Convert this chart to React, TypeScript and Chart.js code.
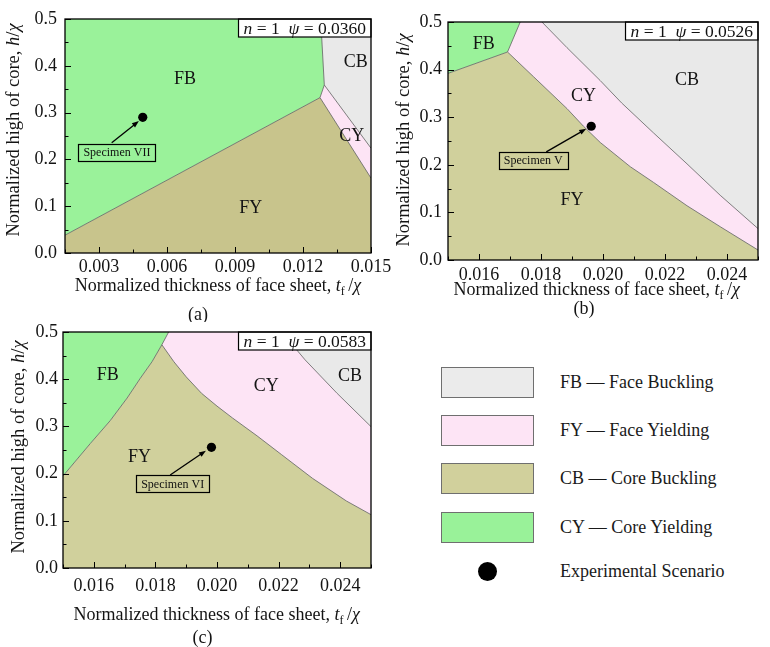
import React, { useEffect, useRef } from "react";
import { Chart, registerables } from "chart.js";
Chart.register(...registerables);

type P = [number, number];
const FONT = '"Liberation Serif", "Times New Roman", Times, serif';
Chart.defaults.font.family = FONT;

// ---------- shared y axis ----------
const yRange: P = [0, 0.5];
const yTicks = [0, 0.1, 0.2, 0.3, 0.4, 0.5];

// ---------- panel (a) ----------
const aXRange: P = [0.0015, 0.015];
const aXTicks = [0.003, 0.006, 0.009, 0.012, 0.015];
const aFbFy: P[] = [[0.0015, 0.038], [0.01275, 0.332]];
const aFbCy: P[] = [[0.01275, 0.332], [0.01294, 0.359]];
const aFbCb: P[] = [[0.01294, 0.359], [0.01278, 0.5]];
const aCyFy: P[] = [[0.01275, 0.332], [0.015, 0.16]];
const aCbCy: P[] = [[0.01294, 0.359], [0.015, 0.224]];
const aSpecimen: P = [0.00493, 0.29];
const aArrow: P[] = [[0.00356, 0.2357], [0.00476, 0.282]];
const aTag = "Specimen VII";
const aTagPos: P = [0.00379, 0.2154];
const aPsi = "0.0360";
const aModeNames = ["FB", "CB", "CY", "FY"];
const aModePos: P[] = [[0.00679, 0.372], [0.01433, 0.4075], [0.01415, 0.2485], [0.00969, 0.0955]];

// ---------- panel (b) ----------
const bXRange: P = [0.015, 0.025];
const bXTicks = [0.016, 0.018, 0.02, 0.022, 0.024];
const bFbFy: P[] = [[0.015, 0.392], [0.01692, 0.437]];
const bFbCy: P[] = [[0.01692, 0.437], [0.01733, 0.5]];
const bCyFy: P[] = [
  [0.01692, 0.437], [0.01776, 0.385], [0.01884, 0.318], [0.01937, 0.281], [0.01991, 0.247],
  [0.02088, 0.196], [0.02163, 0.163], [0.02271, 0.114], [0.02378, 0.07], [0.025, 0.021],
];
const bCbCy: P[] = [
  [0.01803, 0.5], [0.01884, 0.446], [0.01991, 0.377], [0.0206, 0.33], [0.02163, 0.267],
  [0.02271, 0.202], [0.02378, 0.136], [0.025, 0.066],
];
const bSpecimen: P = [0.01962, 0.281];
const bArrow: P[] = [[0.01817, 0.2272], [0.01946, 0.2755]];
const bTag = "Specimen V";
const bTagPos: P = [0.01775, 0.2098];
const bPsi = "0.0526";
const bModeNames = ["FB", "CB", "CY", "FY"];
const bModePos: P[] = [[0.01615, 0.453], [0.02271, 0.378], [0.01937, 0.343], [0.019, 0.126]];

// ---------- panel (c) ----------
const cXRange: P = [0.015, 0.025];
const cXTicks = [0.016, 0.018, 0.02, 0.022, 0.024];
const cFbFy: P[] = [
  [0.015, 0.195], [0.01589, 0.264], [0.01653, 0.312], [0.01708, 0.36], [0.01751, 0.402],
  [0.01789, 0.437], [0.01821, 0.473],
];
const cFbCy: P[] = [[0.01821, 0.473], [0.01843, 0.5]];
const cCyFy: P[] = [
  [0.01821, 0.473], [0.0186, 0.437], [0.019, 0.405], [0.0195, 0.37], [0.02, 0.343],
  [0.0205, 0.318], [0.0213, 0.28], [0.0221, 0.24], [0.0231, 0.19], [0.0242, 0.142], [0.025, 0.113],
];
const cCbCy: P[] = [[0.0221, 0.5], [0.02286, 0.441], [0.0239, 0.37], [0.025, 0.2995]];
const cSpecimen: P = [0.01982, 0.2557];
const cArrow: P[] = [[0.01848, 0.197], [0.01964, 0.2485]];
const cTag = "Specimen VI";
const cTagPos: P = [0.01856, 0.179];
const cPsi = "0.0583";
const cModeNames = ["FB", "CY", "CB", "FY"];
const cModePos: P[] = [[0.01645, 0.409], [0.0216, 0.3845], [0.02432, 0.4057], [0.01748, 0.2336]];

// ---------- legend ----------
const legendLabels = ["FB — Face Buckling", "FY — Face Yielding", "CB — Core Buckling", "CY — Core Yielding"];
const legendColors = ["rgb(235,235,235)", "rgb(253,228,245)", "rgb(209,208,156)", "rgb(153,242,153)"];
const expLabel = "Experimental Scenario";

const GREEN = "rgb(154,242,154)";
const PINK = "rgb(253,228,245)";
const GREY = "rgb(233,233,233)";

const rev = (a: P[]) => [...a].reverse();

function buildRegions(xr: P, fbFy: P[], fbCy: P[], fbCb: P[], cyFy: P[], cbCy: P[]) {
  return {
    FB: [[xr[0], yRange[1]] as P, ...fbFy, ...fbCy.slice(1), ...fbCb.slice(1)],
    FY: [[xr[0], yRange[0]] as P, [xr[1], yRange[0]] as P, ...rev(cyFy), ...rev(fbFy).slice(1)],
    CY: [...cyFy, ...rev(cbCy), ...rev(fbCy)],
    CB: [...cbCy, [xr[1], yRange[1]] as P, ...fbCb.slice(1)],
  };
}

type Seg = { t: string; i?: boolean; sub?: boolean };
function segFont(s: Seg, size: number) {
  return `${s.i ? "italic " : ""}${s.sub ? Math.round(size * 0.68) : size}px ${FONT}`;
}
function drawRich(ctx: CanvasRenderingContext2D, segs: Seg[], x: number, cy: number, size: number) {
  const widths = segs.map((s) => {
    ctx.font = segFont(s, size);
    return ctx.measureText(s.t).width;
  });
  const total = widths.reduce((p, q) => p + q, 0);
  let cx = x - total / 2;
  const base = cy + size * 0.33;
  ctx.textAlign = "left";
  ctx.textBaseline = "alphabetic";
  segs.forEach((s, k) => {
    ctx.font = segFont(s, size);
    ctx.fillText(s.t, cx, base + (s.sub ? size * 0.22 : 0));
    cx += widths[k];
  });
  return total;
}

const xTitle: Seg[] = [
  { t: "Normalized thickness of face sheet, " },
  { t: "t", i: true },
  { t: "f", sub: true },
  { t: "\u2009/" },
  { t: "χ", i: true },
];
const yTitle: Seg[] = [{ t: "Normalized high of core, " }, { t: "h", i: true }, { t: "/" }, { t: "χ", i: true }];

interface PanelCfg {
  xRange: P;
  xTicks: number[];
  regions: Record<string, P[]>;
  colors: Record<string, string>;
  bounds: P[][];
  specimen: P;
  arrow: P[];
  tag: string;
  tagPos: P;
  psi: string;
  modeNames: string[];
  modePos: P[];
  name: string;
  box: { left: number; top: number; w: number; h: number };
  area: { l: number; t: number; r: number; b: number };
  yPad: number;
  xPad: number;
  xTitlePos: P;
  nameAt: P;
  yTitlePos: P;
}

const panelA: PanelCfg = {
  xRange: aXRange,
  xTicks: aXTicks,
  regions: buildRegions(aXRange, aFbFy, aFbCy, aFbCb, aCyFy, aCbCy),
  colors: { FB: GREEN, FY: "rgb(200,196,140)", CY: PINK, CB: GREY },
  bounds: [aFbFy, aFbCy, aFbCb, aCyFy, aCbCy],
  specimen: aSpecimen,
  arrow: aArrow,
  tag: aTag,
  tagPos: aTagPos,
  psi: aPsi,
  modeNames: aModeNames,
  modePos: aModePos,
  name: "(a)",
  box: { left: 0, top: 0, w: 400, h: 322 },
  area: { l: 65, t: 19, r: 371, b: 253 },
  yPad: 8,
  xPad: 3,
  xTitlePos: [218, 285],
  nameAt: [198, 314],
  yTitlePos: [12.5, 130],
};

const panelB: PanelCfg = {
  xRange: bXRange,
  xTicks: bXTicks,
  regions: buildRegions(bXRange, bFbFy, bFbCy, [], bCyFy, bCbCy),
  colors: { FB: GREEN, FY: "rgb(208,208,156)", CY: PINK, CB: GREY },
  bounds: [bFbFy, bFbCy, bCyFy, bCbCy],
  specimen: bSpecimen,
  arrow: bArrow,
  tag: bTag,
  tagPos: bTagPos,
  psi: bPsi,
  modeNames: bModeNames,
  modePos: bModePos,
  name: "(b)",
  box: { left: 385, top: 0, w: 385, h: 322 },
  area: { l: 63, t: 22, r: 373, b: 260 },
  yPad: 6,
  xPad: 4,
  xTitlePos: [211.7, 289],
  nameAt: [199, 308.5],
  yTitlePos: [17.5, 140],
};

const panelC: PanelCfg = {
  xRange: cXRange,
  xTicks: cXTicks,
  regions: buildRegions(cXRange, cFbFy, cFbCy, [], cCyFy, cCbCy),
  colors: { FB: GREEN, FY: "rgb(208,208,156)", CY: PINK, CB: GREY },
  bounds: [cFbFy, cFbCy, cCyFy, cCbCy],
  specimen: cSpecimen,
  arrow: cArrow,
  tag: cTag,
  tagPos: cTagPos,
  psi: cPsi,
  modeNames: cModeNames,
  modePos: cModePos,
  name: "(c)",
  box: { left: 0, top: 315, w: 385, h: 332 },
  area: { l: 63, t: 17, r: 371, b: 253 },
  yPad: 5,
  xPad: 7,
  xTitlePos: [216.7, 299],
  nameAt: [202.5, 322],
  yTitlePos: [17.5, 132],
};

const toXY = (pts: P[]) => pts.map(([x, y]) => ({ x, y }));

function minors(majors: number[], range: P) {
  const step = majors[1] - majors[0];
  const out = majors.map((m) => m - step / 2);
  out.push(majors[majors.length - 1] + step / 2);
  return out.filter((v) => v >= range[0] - 1e-9 && v <= range[1] + 1e-9);
}

function makePlugin(c: PanelCfg) {
  return {
    id: "panelDecor",
    afterDatasetsDraw(chart: any) {
      const ctx: CanvasRenderingContext2D = chart.ctx;
      const xs = chart.scales.x;
      const ys = chart.scales.y;
      const a = chart.chartArea;
      const px = (p: P): P => [xs.getPixelForValue(p[0]), ys.getPixelForValue(p[1])];
      ctx.save();
      // mode labels
      ctx.fillStyle = "#141414";
      ctx.font = `18px ${FONT}`;
      ctx.textAlign = "center";
      ctx.textBaseline = "middle";
      c.modeNames.forEach((n, i) => {
        const [x, y] = px(c.modePos[i]);
        ctx.fillText(n, x, y);
      });
      // arrow
      const [sx, sy] = px(c.arrow[0]);
      const [ex, ey] = px(c.arrow[1]);
      const ang = Math.atan2(ey - sy, ex - sx);
      ctx.strokeStyle = "#000";
      ctx.fillStyle = "#000";
      ctx.lineWidth = 1.3;
      ctx.beginPath();
      ctx.moveTo(sx, sy);
      ctx.lineTo(ex - 5 * Math.cos(ang), ey - 5 * Math.sin(ang));
      ctx.stroke();
      ctx.beginPath();
      ctx.moveTo(ex, ey);
      ctx.lineTo(ex - 7 * Math.cos(ang) + 2.6 * Math.sin(ang), ey - 7 * Math.sin(ang) - 2.6 * Math.cos(ang));
      ctx.lineTo(ex - 7 * Math.cos(ang) - 2.6 * Math.sin(ang), ey - 7 * Math.sin(ang) + 2.6 * Math.cos(ang));
      ctx.closePath();
      ctx.fill();
      // specimen tag
      ctx.font = `12px ${FONT}`;
      const tw = ctx.measureText(c.tag).width;
      const [tx, ty] = px(c.tagPos);
      const bw = tw + 10;
      const bh = 17;
      ctx.lineWidth = 1.2;
      ctx.strokeRect(Math.round(tx - bw / 2) + 0.5, Math.round(ty - bh / 2) + 0.5, Math.round(bw), bh);
      ctx.fillStyle = "#111";
      ctx.textAlign = "center";
      ctx.textBaseline = "middle";
      ctx.fillText(c.tag, tx, ty + 1);
      // parameter box
      const segs: Seg[] = [{ t: "n", i: true }, { t: " = 1  " }, { t: "ψ", i: true }, { t: " = " + c.psi }];
      let w = 0;
      segs.forEach((s) => {
        ctx.font = segFont(s, 17.5);
        w += ctx.measureText(s.t).width;
      });
      const boxW = w + 10;
      const boxH = 18;
      ctx.fillStyle = "#fff";
      ctx.fillRect(a.right - boxW, a.top, boxW, boxH);
      ctx.strokeStyle = "#000";
      ctx.lineWidth = 1.2;
      ctx.strokeRect(a.right - boxW, a.top, boxW, boxH);
      ctx.fillStyle = "#111";
      drawRich(ctx, segs, a.right - boxW / 2, a.top + boxH / 2 + 0.5, 17.5);
      // frame
      ctx.strokeStyle = "#000";
      ctx.lineWidth = 1.3;
      ctx.strokeRect(a.left, a.top, a.right - a.left, a.bottom - a.top);
      // inward ticks
      ctx.lineWidth = 1;
      const seg = (x1: number, y1: number, x2: number, y2: number) => {
        ctx.beginPath();
        ctx.moveTo(x1, y1);
        ctx.lineTo(x2, y2);
        ctx.stroke();
      };
      c.xTicks.forEach((v) => {
        const x = Math.round(xs.getPixelForValue(v)) + 0.5;
        seg(x, a.bottom, x, a.bottom - 6);
      });
      minors(c.xTicks, c.xRange).forEach((v) => {
        const x = Math.round(xs.getPixelForValue(v)) + 0.5;
        seg(x, a.bottom, x, a.bottom - 3.5);
      });
      yTicks.forEach((v) => {
        const y = Math.round(ys.getPixelForValue(v)) + 0.5;
        seg(a.left, y, a.left + 6, y);
      });
      minors(yTicks, yRange).forEach((v) => {
        const y = Math.round(ys.getPixelForValue(v)) + 0.5;
        seg(a.left, y, a.left + 3.5, y);
      });
      ctx.restore();
    },
    afterDraw(chart: any) {
      const ctx: CanvasRenderingContext2D = chart.ctx;
      ctx.save();
      ctx.fillStyle = "#141414";
      drawRich(ctx, xTitle, c.xTitlePos[0], c.xTitlePos[1], 18);
      drawRich(ctx, [{ t: c.name }], c.nameAt[0], c.nameAt[1], 18);
      ctx.translate(c.yTitlePos[0], c.yTitlePos[1]);
      ctx.rotate(-Math.PI / 2);
      drawRich(ctx, yTitle, 0, 0, 18.5);
      ctx.restore();
    },
  };
}

function PanelChart({ cfg }: { cfg: PanelCfg }) {
  const ref = useRef<HTMLCanvasElement>(null);
  useEffect(() => {
    const c = cfg;
    const datasets: any[] = [];
    datasets.push({
      data: toXY([c.specimen]),
      showLine: false,
      pointRadius: 4.6,
      pointBackgroundColor: "#000",
      pointBorderColor: "#000",
      pointBorderWidth: 0,
      order: 0,
    });
    c.bounds.forEach((b) =>
      datasets.push({
        data: toXY(b),
        borderColor: "rgba(105,105,105,0.85)",
        borderWidth: 1,
        pointRadius: 0,
        fill: false,
        order: 1,
      })
    );
    Object.keys(c.regions).forEach((k) => {
      const poly = c.regions[k];
      datasets.push({
        data: toXY([...poly, poly[0]]),
        borderWidth: 0,
        borderColor: "rgba(0,0,0,0)",
        backgroundColor: c.colors[k],
        fill: "shape",
        pointRadius: 0,
        order: 2,
      });
    });
    const font = { family: FONT, size: 18 };
    const chart = new Chart(ref.current as HTMLCanvasElement, {
      type: "line",
      data: { datasets },
      options: {
        responsive: false,
        animation: false,
        devicePixelRatio: 1,
        events: [],
        layout: { padding: { left: 0, top: c.area.t, right: c.box.w - c.area.r, bottom: 0 } },
        plugins: { legend: { display: false }, tooltip: { enabled: false } },
        scales: {
          x: {
            type: "linear",
            min: c.xRange[0],
            max: c.xRange[1],
            afterBuildTicks: (s: any) => {
              s.ticks = c.xTicks.map((v) => ({ value: v }));
            },
            afterFit: (s: any) => {
              s.height = c.box.h - c.area.b;
              s.paddingLeft = 0;
              s.paddingRight = 0;
            },
            grid: { display: false, drawTicks: false },
            border: { display: false },
            ticks: {
              font,
              color: "#141414",
              padding: c.xPad,
              maxRotation: 0,
              autoSkip: false,
              callback: (v: any) => Number(v).toFixed(3),
            },
          },
          y: {
            type: "linear",
            min: yRange[0],
            max: yRange[1],
            afterBuildTicks: (s: any) => {
              s.ticks = yTicks.map((v) => ({ value: v }));
            },
            afterFit: (s: any) => {
              s.width = c.area.l;
              s.paddingTop = 0;
              s.paddingBottom = 0;
            },
            grid: { display: false, drawTicks: false },
            border: { display: false },
            ticks: {
              font,
              color: "#141414",
              padding: c.yPad,
              autoSkip: false,
              callback: (v: any) => Number(v).toFixed(1),
            },
          },
        },
      } as any,
      plugins: [makePlugin(c)],
    });
    return () => chart.destroy();
  }, [cfg]);
  return (
    <canvas
      ref={ref}
      width={cfg.box.w}
      height={cfg.box.h}
      style={{ position: "absolute", left: cfg.box.left, top: cfg.box.top, width: cfg.box.w, height: cfg.box.h }}
    />
  );
}

function Legend() {
  const tops = [367, 415, 463, 512];
  const textStyle: React.CSSProperties = {
    position: "absolute",
    left: 560,
    height: 31,
    lineHeight: "31px",
    fontFamily: FONT,
    fontSize: 18,
    color: "#1a1a1a",
    whiteSpace: "nowrap",
  };
  return (
    <>
      {legendLabels.map((lab, i) => (
        <React.Fragment key={lab}>
          <div
            style={{
              position: "absolute",
              left: 441,
              top: tops[i],
              width: 93,
              height: 31,
              boxSizing: "border-box",
              border: "1.2px solid #6f6f6f",
              background: legendColors[i],
            }}
          />
          <div style={{ ...textStyle, top: tops[i] }}>{lab}</div>
        </React.Fragment>
      ))}
      <div
        style={{
          position: "absolute",
          left: 478,
          top: 561.5,
          width: 19,
          height: 19,
          borderRadius: "50%",
          background: "#000",
        }}
      />
      <div style={{ ...textStyle, top: 555.5 }}>{expLabel}</div>
    </>
  );
}

export default function App() {
  return (
    <div
      style={{
        position: "fixed",
        left: 0,
        top: 0,
        width: 770,
        height: 647,
        background: "#fff",
        overflow: "hidden",
      }}
    >
      <PanelChart cfg={panelA} />
      <PanelChart cfg={panelB} />
      <PanelChart cfg={panelC} />
      <Legend />
    </div>
  );
}
